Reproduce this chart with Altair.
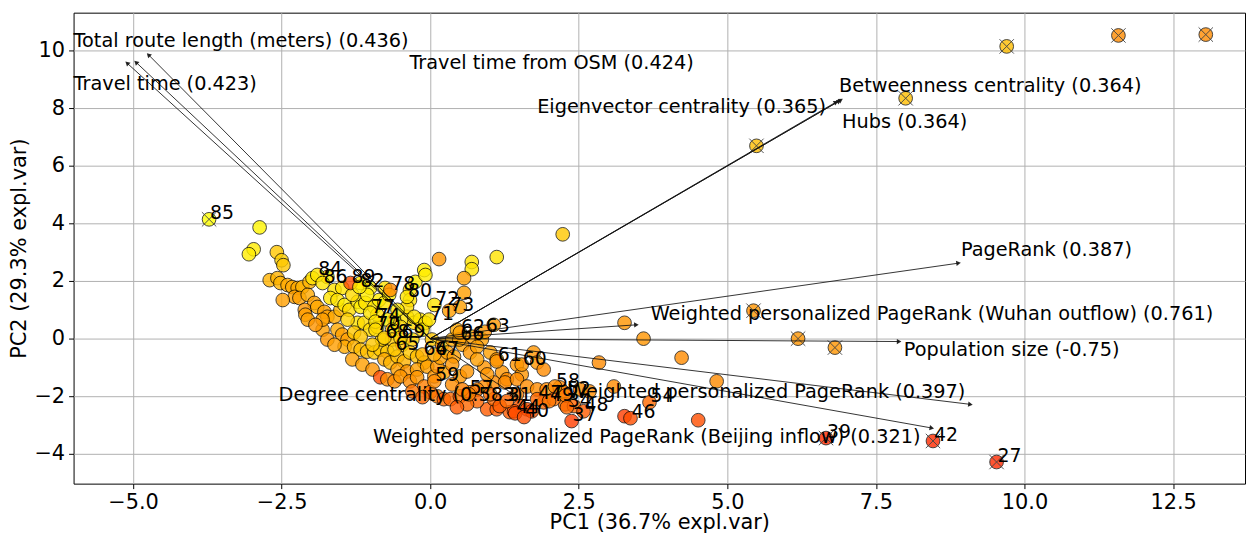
import altair as alt
import pandas as pd
import numpy as np

# ---------------- data ----------------
X_DOMAIN = [-6.0, 13.71]
Y_DOMAIN = [-5.03, 11.31]
W, H = 1179, 474

x_ticks = [-5.0, -2.5, 0.0, 2.5, 5.0, 7.5, 10.0, 12.5]
y_ticks = [-4, -2, 0, 2, 4, 6, 8, 10]

# (PC1, PC2, colour value 0=yellow .. 1=red)
tail_points = [
    (-2.87, 3.86, 0.05), (-2.97, 3.10, 0.10), (-3.05, 2.93, 0.10), (-2.58, 3.00, 0.30),
    (-2.50, 2.72, 0.25), (-2.47, 2.55, 0.30), (-2.70, 2.03, 0.40), (-2.57, 2.10, 0.40),
    (-2.52, 1.93, 0.40), (-2.40, 1.86, 0.45), (-2.32, 1.79, 0.45), (-2.23, 1.76, 0.45),
    (-2.15, 1.79, 0.40), (-2.03, 1.97, 0.40), (-1.98, 2.10, 0.15), (-1.73, 2.14, 0.10),
    (-2.28, 1.45, 0.50), (-2.20, 1.41, 0.50), (-2.06, 1.52, 0.45), (-1.95, 1.24, 0.50),
    (-2.11, 1.00, 0.55), (-2.10, 0.83, 0.50), (-1.90, 1.10, 0.45), (-1.78, 0.93, 0.50),
    (-1.73, 0.76, 0.50), (-1.61, 0.76, 0.45), (-1.51, 1.00, 0.40), (-2.48, 1.34, 0.50),
    (-2.06, 0.66, 0.50),
]
upper_points = [
    (-1.61, 1.69, 0.15), (-1.48, 1.76, 0.15), (-1.17, 1.93, 0.10), (-1.01, 1.76, 0.10),
    (-0.76, 1.76, 0.15), (-0.34, 1.69, 0.15), (-0.25, 1.97, 0.10), (-0.10, 2.38, 0.10),
    (-0.08, 2.21, 0.10), (-1.68, 1.41, 0.15), (-1.56, 1.34, 0.15), (-1.44, 1.17, 0.10),
    (-1.36, 1.00, 0.20), (-1.22, 1.28, 0.15), (-1.17, 1.10, 0.10), (-1.09, 1.24, 0.15),
    (-0.94, 1.10, 0.15), (-0.86, 1.34, 0.10), (-0.77, 1.24, 0.15), (-0.60, 0.66, 0.15),
    (-0.39, 0.76, 0.15), (-0.50, 0.41, 0.20), (-0.27, 0.55, 0.20), (-0.17, 0.66, 0.15),
    (-0.34, 1.34, 0.15), (-0.39, 1.10, 0.20), (-0.27, 0.76, 0.15), (-0.08, 0.55, 0.15),
    (-1.22, 0.55, 0.15), (-1.11, 0.55, 0.20), (-1.01, 0.31, 0.20), (-0.89, 0.41, 0.25),
    (-0.89, 0.83, 0.15), (-0.72, 0.66, 0.15), (-0.55, 1.00, 0.10), (-0.69, 1.52, 0.10),
    (-1.06, 1.52, 0.10), (-1.31, 1.52, 0.20), (-1.39, 0.66, 0.25), (-0.64, 0.31, 0.20),
    (-0.13, 0.31, 0.20), (0.15, 2.76, 0.55), (0.70, 2.66, 0.15), (0.70, 2.41, 0.15),
    (0.57, 2.10, 0.50), (0.57, 1.59, 0.50), (0.50, 1.10, 0.50), (1.12, 2.83, 0.15),
    (2.23, 3.62, 0.30),
]
core_points = [
    (-1.56, 0.31, 0.45), (-1.48, 0.14, 0.50), (-1.39, -0.03, 0.50), (-1.28, 0.21, 0.30),
    (-1.17, 0.07, 0.30), (-1.44, -0.28, 0.45), (-1.28, -0.28, 0.40), (-1.17, -0.38, 0.35),
    (-1.06, -0.45, 0.35), (-0.94, -0.48, 0.30), (-0.84, -0.38, 0.30), (-0.72, -0.45, 0.30),
    (-0.64, -0.03, 0.30), (-0.47, -0.21, 0.30), (-0.30, -0.03, 0.25), (0.03, -0.03, 0.30),
    (0.20, -0.21, 0.40), (0.37, -0.03, 0.45), (0.54, -0.21, 0.50), (0.70, 0.07, 0.50),
    (0.87, -0.03, 0.50), (0.45, 0.31, 0.45), (-0.81, -0.03, 0.25), (-0.97, -0.21, 0.30),
    (-1.81, 0.31, 0.50), (-1.73, -0.03, 0.55), (-1.61, -0.21, 0.50), (-1.81, 0.66, 0.50),
    (-1.93, 0.48, 0.55), (-0.77, -0.72, 0.45), (-0.67, -0.83, 0.40), (-0.55, -0.62, 0.35),
    (-0.44, -0.79, 0.40), (-0.34, -0.48, 0.30), (-0.22, -0.62, 0.35), (-0.10, -0.83, 0.40),
    (-1.31, -0.72, 0.50), (-1.14, -0.90, 0.50), (-0.97, -1.07, 0.55), (-0.55, -1.07, 0.50),
    (-0.39, -1.14, 0.55), (-0.22, -1.07, 0.50), (-0.05, -0.97, 0.50), (0.07, -1.31, 0.55),
    (0.23, -1.17, 0.50), (0.12, -0.97, 0.55), (0.17, -0.66, 0.50), (0.29, -0.48, 0.50),
    (0.40, -0.62, 0.50), (0.50, -1.31, 0.55), (0.62, -1.14, 0.55), (0.67, -0.48, 0.55),
    (0.79, -0.28, 0.50), (1.01, -0.48, 0.50), (1.12, -0.72, 0.55), (1.21, -1.17, 0.55),
    (1.29, -1.41, 0.60), (1.07, -1.52, 0.60), (0.91, -1.66, 0.60), (1.07, 0.48, 0.55),
    (1.74, -0.48, 0.55), (1.80, -0.83, 0.55), (1.91, -1.07, 0.60), (0.91, -1.00, 0.55),
    (1.46, -0.90, 0.55), (1.54, -1.24, 0.55), (0.79, -0.72, 0.50), (0.96, -1.24, 0.55),
    (0.37, -0.90, 0.55),
]
lower_points = [
    (-0.84, -1.34, 0.85), (-0.72, -1.41, 0.60), (-0.60, -1.48, 0.60), (-0.50, -1.31, 0.55),
    (-0.34, -1.48, 0.60), (-0.22, -1.34, 0.55), (-0.10, -1.66, 0.65), (0.00, -1.86, 0.70),
    (0.12, -2.00, 0.70), (0.23, -2.10, 0.75), (0.34, -2.10, 0.75), (0.50, -2.00, 0.70),
    (0.67, -1.86, 0.70), (0.96, -2.45, 0.80), (1.12, -2.45, 0.80), (1.34, -2.55, 0.80),
    (-0.30, -1.83, 0.70), (-0.13, -2.03, 0.75), (0.37, -1.59, 0.60), (0.54, -1.76, 0.65),
    (0.79, -1.76, 0.65), (0.79, -2.17, 0.75), (0.62, -2.28, 0.75), (0.45, -2.38, 0.80),
    (1.46, -1.93, 0.70), (1.26, -1.52, 0.60), (1.46, -1.41, 0.60), (1.63, -1.66, 0.60),
    (1.80, -1.76, 0.60), (1.96, -1.76, 0.60), (2.18, -1.69, 0.60), (2.52, -1.76, 0.60),
    (2.68, -1.83, 0.60), (2.25, -1.86, 0.65), (2.27, -2.28, 0.70), (1.51, -2.34, 0.80),
    (1.63, -2.45, 0.85), (1.71, -2.52, 0.85), (1.91, -2.21, 0.75), (2.08, -2.10, 0.70),
    (2.42, -2.34, 0.75), (1.07, -2.10, 0.75), (1.17, -2.34, 0.80), (1.01, -1.93, 0.70),
    (1.41, -2.52, 0.85),
]
right_points = [
    (3.27, -2.69, 0.90), (4.51, -2.83, 0.85), (3.27, 0.55, 0.55), (3.59, 0.00, 0.55),
    (4.23, -0.66, 0.60), (2.84, -0.83, 0.60), (4.82, -1.48, 0.60), (3.09, -1.66, 0.60),
]

# labelled points
lab_text = ["84", "86", "89", "82", "78", "80", "72", "73", "71", "77", "74", "70",
            "68", "69", "65", "64", "67", "66", "62", "63", "61", "60", "59", "57",
            "31", "47", "49", "44", "40", "58", "52", "34", "48", "37", "46", "54"]
lab_pc1 = [-1.90, -1.81, -1.34, -1.19, -0.67, -0.39, 0.07, 0.32, -0.02, -1.01, -0.92, -0.92,
           -0.77, -0.50, -0.60, -0.13, 0.07, 0.49, 0.50, 0.92, 1.12, 1.54, 0.07, 0.65,
           1.29, 1.80, 2.00, 1.43, 1.58, 2.10, 2.28, 2.30, 2.58, 2.38, 3.37, 3.69]
lab_pc2 = [2.21, 1.93, 1.93, 1.79, 1.69, 1.45, 1.17, 0.97, 0.66, 0.90, 0.59, 0.31,
           0.03, 0.03, -0.38, -0.55, -0.55, -0.03, 0.21, 0.24, -0.79, -0.90, -1.48, -1.93,
           -2.17, -2.10, -2.17, -2.59, -2.72, -1.66, -1.97, -2.38, -2.52, -2.86, -2.76, -2.21]
lab_col = [0.15, 0.15, 0.85, 0.10, 0.60, 0.15, 0.15, 0.50, 0.15, 0.15, 0.15, 0.20,
           0.25, 0.25, 0.30, 0.40, 0.45, 0.50, 0.50, 0.55, 0.55, 0.55, 0.60, 0.65,
           0.75, 0.75, 0.70, 0.85, 0.85, 0.60, 0.65, 0.75, 0.80, 0.90, 0.85, 0.75]

# highlighted (x-marked) points
cross_pc1 = [13.05, 11.58, 9.70, 8.00, 5.49, 5.44, 6.19, 6.81, 6.66, 8.46, 9.53, -3.72]
cross_pc2 = [10.55, 10.52, 10.14, 8.34, 6.69, 0.97, 0.00, -0.31, -3.45, -3.55, -4.28, 4.14]
cross_col = [0.60, 0.60, 0.35, 0.35, 0.35, 0.55, 0.55, 0.55, 0.95, 0.95, 0.95, 0.00]
cross_lab = ["", "", "", "", "", "", "", "", "39", "42", "27", "85"]

# loadings (arrow tips) and their label anchors
load_names = [
    "Total route length (meters) (0.436)",
    "Travel time from OSM (0.424)",
    "Travel time (0.423)",
    "Eigenvector centrality (0.365)",
    "Betweenness centrality (0.364)",
    "Hubs (0.364)",
    "PageRank (0.387)",
    "Weighted personalized PageRank (Wuhan outflow) (0.761)",
    "Population size (-0.75)",
    "Weighted personalized PageRank (0.397)",
    "Weighted personalized PageRank (Beijing inflow) (0.321)",
    "Degree centrality (0.583)",
]
arrow_pc1 = [-4.74, -4.95, -5.10, 6.83, 6.88, 6.91, 8.89, 3.47, 7.89, 9.09, 8.44, 1.45]
arrow_pc2 = [9.85, 9.59, 9.56, 8.21, 8.24, 8.28, 2.62, 0.48, -0.10, -2.28, -3.10, -2.00]
text_pc1 = [-6.0, -0.35, -6.0, 1.80, 6.88, 6.93, 8.93, 3.71, 7.97, 2.32, -0.96, -2.55]
text_pc2 = [10.31, 9.55, 8.83, 8.03, 8.76, 7.52, 3.07, 0.86, -0.41, -1.86, -3.41, -1.97]

# ---------------- tables ----------------
rows = []
for grp in (tail_points, upper_points, core_points, lower_points, right_points):
    for px, py, pc in grp:
        rows.append({"x": px, "y": py, "c": pc})
for px, py, pc in zip(lab_pc1, lab_pc2, lab_col):
    rows.append({"x": px, "y": py, "c": pc})
points_df = pd.DataFrame(rows)

labels_df = pd.DataFrame({"x": lab_pc1 + cross_pc1, "y": lab_pc2 + cross_pc2,
                          "t": lab_text + cross_lab})
labels_df = labels_df[labels_df["t"] != ""]

cross_df = pd.DataFrame({"x": cross_pc1, "y": cross_pc2, "c": cross_col})

kx = W / (X_DOMAIN[1] - X_DOMAIN[0])
ky = H / (Y_DOMAIN[1] - Y_DOMAIN[0])
arrows_df = pd.DataFrame({"x": [0.0] * len(arrow_pc1), "y": [0.0] * len(arrow_pc1),
                          "x2": arrow_pc1, "y2": arrow_pc2})
heads_df = pd.DataFrame({"x": arrow_pc1, "y": arrow_pc2})
heads_df["ang"] = (np.degrees(np.arctan2(np.array(arrow_pc1) * kx,
                                         np.array(arrow_pc2) * ky)) + 360) % 360
names_df = pd.DataFrame({"x": text_pc1, "y": text_pc2, "t": load_names})

# ---------------- chart ----------------
FONT = "DejaVu Sans"
xs = alt.Scale(domain=X_DOMAIN, nice=False, zero=False)
ys = alt.Scale(domain=Y_DOMAIN, nice=False, zero=False)

x_axis = alt.Axis(values=x_ticks, labelExpr="replace(format(datum.value, '.1f'), '-', '\u2212')",
                  title="PC1 (36.7% expl.var)", titleY=39, titleBaseline="middle",
                  labelPadding=3)
y_axis = alt.Axis(values=y_ticks, labelExpr="replace(format(datum.value, 'd'), '-', '\u2212')",
                  title="PC2 (29.3% expl.var)", titleX=-54, titleY=H / 2, titleAngle=270,
                  titleAlign="center", titleBaseline="middle", labelPadding=4)

X = alt.X("x:Q", scale=xs, axis=x_axis)
Y = alt.Y("y:Q", scale=ys, axis=y_axis)
col = alt.Color("c:Q", scale=alt.Scale(domain=[0, 1], range=["#ffff00", "#ff0000"]), legend=None)

pts = alt.Chart(points_df).mark_circle(size=190, opacity=0.8, stroke="black",
                                       strokeWidth=0.9).encode(x=X, y=Y, color=col)
cpts = alt.Chart(cross_df).mark_circle(size=190, opacity=0.8, stroke="black",
                                       strokeWidth=0.9).encode(x=X, y=Y, color=col)
xmarks = alt.Chart(cross_df).mark_point(shape="M-1,-1L1,1M-1,1L1,-1", size=210, filled=False,
                                        stroke="#444444", strokeWidth=1,
                                        opacity=0.9).encode(x="x:Q", y="y:Q")
lines = alt.Chart(arrows_df).mark_rule(color="#111111", strokeWidth=1,
                                       opacity=0.85).encode(x="x:Q", y="y:Q", x2="x2:Q", y2="y2:Q")
heads = alt.Chart(heads_df).mark_point(shape="triangle-up", filled=True, size=28,
                                       color="#111111", opacity=0.9).encode(
    x="x:Q", y="y:Q", angle=alt.Angle("ang:Q", scale=None))
names = alt.Chart(names_df).mark_text(align="left", baseline="middle", font=FONT,
                                      fontSize=19.4, color="black").encode(x="x:Q", y="y:Q", text="t:N")
plabs = alt.Chart(labels_df).mark_text(align="left", baseline="alphabetic", font=FONT,
                                       fontSize=19, color="black", dx=1).encode(
    x="x:Q", y="y:Q", text="t:N")

chart = alt.layer(pts, cpts, xmarks, lines, heads, names, plabs).properties(
    width=W, height=H,
    background="white",
    autosize=alt.AutoSizeParams(type="none"),
    padding={"left": 66, "top": 3, "right": 2, "bottom": 51},
).configure_view(stroke="black", strokeWidth=1).configure_axis(
    labelFont=FONT, titleFont=FONT, titleFontWeight="normal",
    labelFontSize=21, titleFontSize=21, tickSize=5,
    labelColor="black", titleColor="black", tickColor="black",
    domain=False, grid=True, gridColor="#b0b0b0", gridWidth=1,
)

chart.save("out.html", embed_options={"renderer": "svg", "actions": False})
